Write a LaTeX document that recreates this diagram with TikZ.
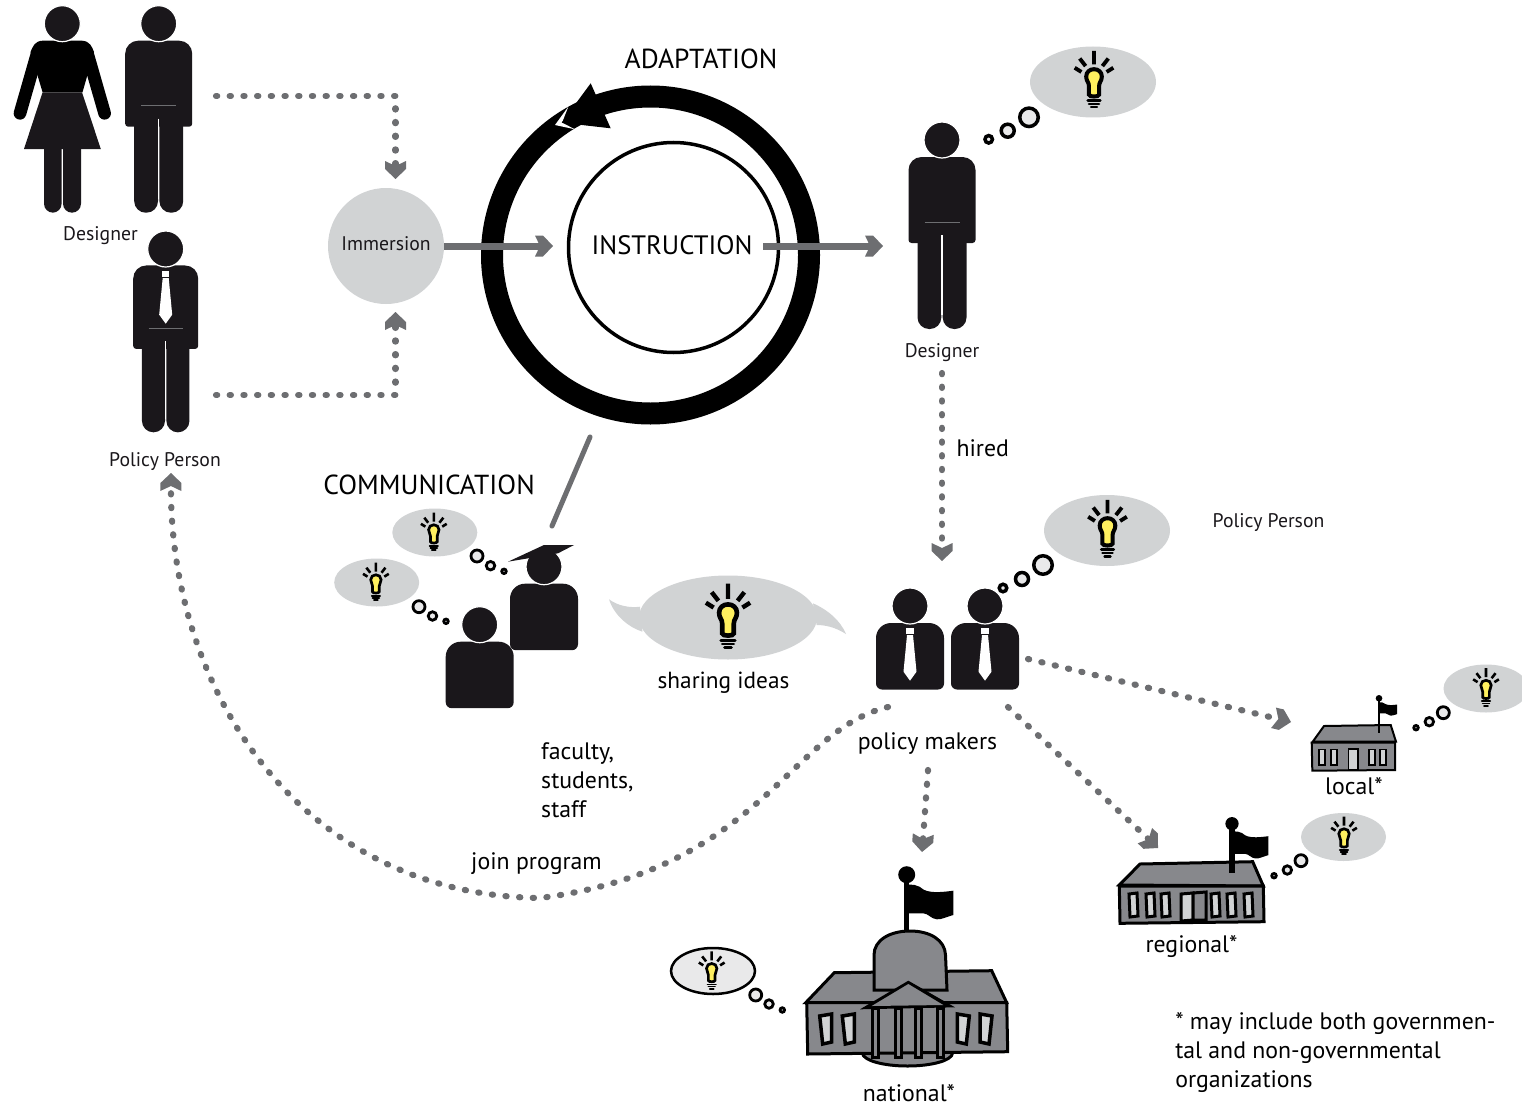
\documentclass[tikz,border=0pt]{standalone}
\usepackage{fontspec}
\setmainfont{PT Sans}
\usetikzlibrary{arrows.meta,shapes.geometric}

\definecolor{figblack}{HTML}{1A171B}
\definecolor{cloudgray}{HTML}{D1D3D4}
\definecolor{arrowgray}{HTML}{6D6E71}
\definecolor{roofgray}{HTML}{87888C}
\definecolor{dotfill}{HTML}{E9E9EA}
\definecolor{bulbyellow}{HTML}{FFF05F}

\pgfdeclarearrow{
	name=Chevron,
	setup code={
		\pgfarrowssettipend{18pt}
		\pgfarrowssetlineend{5pt}
		\pgfarrowssetbackend{0pt}
		\pgfarrowssetvisualbackend{5pt}
		\pgfarrowshullpoint{18pt}{0pt}
		\pgfarrowsupperhullpoint{0pt}{10.5pt}
		\pgfarrowsupperhullpoint{8pt}{10.5pt}
	},
	drawing code={
		\pgfpathmoveto{\pgfqpoint{18pt}{0pt}}
		\pgfpathlineto{\pgfqpoint{8pt}{10.5pt}}
		\pgfpathlineto{\pgfqpoint{0pt}{10.5pt}}
		\pgfpathlineto{\pgfqpoint{5pt}{0pt}}
		\pgfpathlineto{\pgfqpoint{0pt}{-10.5pt}}
		\pgfpathlineto{\pgfqpoint{8pt}{-10.5pt}}
		\pgfpathclose
		\pgfusepathqfill
	},
	defaults={}
}

\tikzset{
	smalltext/.style={font=\fontsize{19.7}{23}\selectfont,text=figblack},
	midtext/.style={font=\fontsize{23.8}{29}\selectfont,text=black},
	bigtext/.style={font=\fontsize{27.5}{32}\selectfont,text=black},
	dotarrow/.style={arrowgray,line width=6.2pt,line cap=round,dash pattern=on 1.2pt off 12.5pt,-{Chevron}},
	solidarrow/.style={arrowgray,line width=7pt,-{Chevron}},
	bubblebig/.style={ellipse,fill=cloudgray,inner sep=0pt,minimum width=126pt,minimum height=71pt},
	bubblesmall/.style={ellipse,fill=cloudgray,inner sep=0pt,minimum width=85pt,minimum height=48pt},
	dotring/.style={circle,draw=black,fill=dotfill,inner sep=0pt},
	windowbox/.style={draw=black,fill=cloudgray},
	wall/.style={draw=black,fill=roofgray,line join=miter},
	pics/bulb/.style={code={
		\begin{scope}[scale=#1]
		\draw[fill=bulbyellow,line width=#1*4.8pt] (-6,21) -- (-6,11) .. controls (-6,6) and (-9.3,5) .. (-9.3,-.5)
			.. controls (-9.3,-6) and (-5,-9.3) .. (0,-9.3) .. controls (5,-9.3) and (9.3,-6) .. (9.3,-.5)
			.. controls (9.3,5) and (6,6) .. (6,11) -- (6,21) .. controls (6,24) and (-6,24) .. (-6,21) -- cycle;
		\draw[line width=#1*4.6pt] (0,-31) -- (0,-15) (-17,-22) -- (-10,-13) (17,-22) -- (10,-13)
			(-23,-11) -- (-15,-6) (23,-11) -- (15,-6);
		\draw[line width=#1*3pt,line cap=round] (-7.5,28) -- (7.5,28) (-6,32) -- (6,32) (-3.5,36) -- (3.5,36);
		\end{scope}}},
	pics/bulb/.default=1,
	pics/head/.style={code={
		\fill[figblack,draw=white,line width=1.2pt] (0,0) circle[radius=18];}},
	pics/man/.style={code={
		\fill[figblack] [rounded corners=13pt] (-33.5,60) -- (-33.5,17) -- (33.5,17) [rounded corners=3pt] -- (33.5,103) -- (-33.5,103) -- cycle;
		\fill[figblack,rounded corners=11.5pt] (-24.5,90) -- (-24.5,189) -- (-.7,189) -- (-.7,90) -- cycle;
		\fill[figblack,rounded corners=11.5pt] (.7,90) -- (.7,189) -- (24.5,189) -- (24.5,90) -- cycle;
		\draw[white,line width=1.4pt] (0,95) -- (0,175);
		\draw[arrowgray,line width=.5pt] (-17.5,82) -- (17.5,82);
		\pic at (0,0) {head};}},
	pics/tie/.style={code={
		\fill[white] (-3.7,21.7) rectangle (3.7,28.3);
		\fill[white] (-3,29) -- (3,29) -- (6.5,65.7) -- (0,74.7) -- (-6.5,65.7) -- cycle;}},
	pics/bust/.style={code={
		\fill[figblack,rounded corners=15pt] (-34,50) -- (-34,17) -- (34,17) [rounded corners=6pt] -- (34,83.5) -- (-34,83.5) -- cycle;
		\pic at (0,0) {head};}},
	pics/flagcloth/.style={code={
		\begin{scope}[scale=#1]
		\fill[black] (0,0) circle[radius=8.5];
		\fill[black] (-2.4,10.3) .. controls (4,9) and (12,10) .. (17,15) .. controls (25,19) and (38,17) .. (46.6,16)
			-- (46.6,40.3) .. controls (40,42) and (35,45) .. (30,44.6) .. controls (24,44) and (22,39) .. (16.6,38.6) -- (-1.7,38.6) -- cycle;
		\end{scope}}},
}

\begin{document}
\begin{tikzpicture}[x=1pt,y=-1pt]
	\useasboundingbox (0,0) rectangle (1522,1105);

	% people on the left
	\fill[black] (42.6,40.7) -- (82,40.7) .. controls (90,41) and (92,47) .. (94,52) -- (82.5,92.3) -- (42.6,92.3) -- (30.5,52) .. controls (33,46) and (35,41) .. (42.6,40.7) -- cycle;
	\draw[black,line width=12.7pt,line cap=round] (37,54) -- (20,113.3) (87.6,54) -- (104.6,113.3);
	\fill[figblack] (42.6,92.3) -- (82,92.3) -- (100.8,149) -- (24,149) -- cycle;
	\fill[figblack,rounded corners=9pt] (44,140) -- (44,212.7) -- (61.6,212.7) -- (61.6,140) -- cycle;
	\fill[figblack,rounded corners=9pt] (63,140) -- (63,212.7) -- (81,212.7) -- (81,140) -- cycle;
	\pic at (62.3,23.7) {head};
	\pic at (158.7,23.7) {man};
	\pic[scale=.97] at (165.7,249) {man};
	\pic at (165.7,249) {tie};
	\pic at (942,140) {man};

	\node[smalltext] (designerone) at (100.5,236) {Designer};
	\node[smalltext] (policyone) at (165,462) {Policy Person};
	\node[smalltext] (designertwo) at (942,353) {Designer};
	\node[smalltext] (policytwo) at (1268.5,523) {Policy Person};

	% circles in the middle
	\node[circle,fill=cloudgray,inner sep=0pt,minimum size=116pt] (immersion) at (386,246) {};
	\node[smalltext] at (386,244) {Immersion};
	\node[circle,draw=black,line width=22pt,minimum size=317pt,inner sep=0pt] (adaptation) at (650.5,255) {};
	\node[circle,draw=black,line width=3.5pt,minimum size=210pt,inner sep=0pt] (instruction) at (673.5,247.5) {};
	\fill[white] (568.3,106.7) -- (555,125) -- (575,129.3) -- (562,122.7) -- cycle;
	\fill[black] (590.7,83.3) -- (610.7,128.3) -- (561.7,122.7) -- cycle;
	\node[bigtext] (adaptlabel) at (701,59) {ADAPTATION};
	\node[bigtext,font=\fontsize{26.6}{32}\selectfont] (instrlabel) at (672,245) {INSTRUCTION};
	\node[bigtext] (commlabel) at (429,485) {COMMUNICATION};

	\coordinate (coupleout) at (216,96);
	\coordinate (policyout) at (216,395);
	\coordinate (immtop) at (395.5,179);
	\coordinate (immbottom) at (395.5,312);
	\coordinate (instrin) at (553,246);
	\coordinate (instrout) at (763,246);
	\coordinate (designerin) at (883,246);
	\coordinate (designerout) at (942,373);
	\coordinate (makersin) at (942,561);
	\coordinate (ringfoot) at (590,437);
	\coordinate (capfoot) at (552,526);

	\draw[dotarrow] (coupleout) -| (immtop);
	\draw[dotarrow] (policyout) -| (immbottom);
	\draw[solidarrow] (immersion) -- (instrin);
	\draw[solidarrow] (instrout) -- (designerin);
	\draw[dotarrow] (designerout) -- (makersin);
	\draw[arrowgray,line width=5pt,line cap=round] (ringfoot) -- (capfoot);
	\node[midtext,anchor=west] (hired) at (953,448) {hired};

	% thought bubbles
	\node[bubblebig] (ideaone) at (1093,82) {};
	\pic at (1094,77) {bulb=.84};
	\node[bubblebig] (ideatwo) at (1107,530.5) {};
	\pic at (1107.5,526) {bulb=.84};
	\node[bubblesmall] (idealocal) at (1486,688.5) {};
	\pic at (1486,685.5) {bulb=.56};
	\node[bubblesmall] (idearegional) at (1343.5,837) {};
	\pic at (1344,834) {bulb=.56};
	\node[bubblesmall,draw=black,line width=2.5pt,fill=dotfill,minimum width=84pt,minimum height=46pt] (ideanational) at (713,971) {};
	\pic at (711.7,968.7) {bulb=.56};
	\node[bubblesmall] (ideafaculty) at (434.8,532.5) {};
	\pic at (433.8,530) {bulb=.56};
	\node[bubblesmall] (ideastudent) at (376.7,582.5) {};
	\pic at (375.9,580) {bulb=.56};

	\foreach \bx/\by/\mx/\my/\sx/\sy in {1029/117.3/1007.7/130.7/988.7/139.3,1043/565/1022/579/1003/588}{
		\node[dotring,line width=3.5pt,minimum size=18.5pt] at (\bx,\by) {};
		\node[dotring,line width=3.5pt,minimum size=13pt] at (\mx,\my) {};
		\node[dotring,line width=3.5pt,minimum size=7.5pt] at (\sx,\sy) {};
	}
	\foreach \bx/\by/\mx/\my/\sx/\sy in {1443.3/712.7/1429.3/721.7/1416/727.7,1301/860.7/1287.3/870/1274/875.7,755.7/995/769/1004/782.3/1010,
		477/556/490.5/565.7/504/571.3,419/606.7/432.5/616/446/621.3}{
		\node[dotring,line width=2.8pt,minimum size=12pt] at (\bx,\by) {};
		\node[dotring,line width=2.8pt,minimum size=8.5pt] at (\mx,\my) {};
		\node[dotring,line width=2.8pt,minimum size=4.5pt] at (\sx,\sy) {};
	}

	% faculty and students
	\pic at (544,566.7) {bust};
	\fill[figblack] (508,561.7) -- (544,545) -- (574,545) -- (558,553.3) -- (530,558) -- cycle;
	\pic at (479.7,624.7) {bust};
	\node[midtext,anchor=north west,align=left] (faculty) at (537.7,739.5) {faculty,\\students,\\staff};

	% sharing ideas
	\fill[cloudgray] (640,606.7) .. controls (630,608) and (618,606) .. (609,599.3) .. controls (614,615) and (628,627) .. (642.4,631.7) -- cycle;
	\fill[cloudgray] (813,603.3) .. controls (828,610) and (840,620) .. (846,634) .. controls (835,627) and (825,625) .. (816.6,625) -- cycle;
	\node[ellipse,fill=cloudgray,inner sep=0pt,minimum width=178pt,minimum height=84pt] (sharing) at (728,617.5) {};
	\pic at (728,613.3) {bulb=.96};
	\node[midtext,font=\fontsize{23.3}{29}\selectfont] (sharinglabel) at (723.5,682.5) {sharing ideas};

	% policy makers
	\pic at (910,606) {bust};
	\pic at (910,606) {tie};
	\pic at (985,606) {bust};
	\pic at (985,606) {tie};
	\node[midtext] (makers) at (927.5,743.5) {policy makers};

	\coordinate (makerslocal) at (1028,659);
	\coordinate (localin) at (1291,722);
	\coordinate (makersregional) at (1008,707);
	\coordinate (regionalin) at (1158,848);
	\coordinate (makersnational) at (928,770);
	\coordinate (nationalin) at (922,852);
	\coordinate (makersback) at (888,707);
	\coordinate (joinmid) at (540,898);
	\coordinate (policyin) at (171,473);

	\draw[dotarrow] (makerslocal) -- (localin);
	\draw[dotarrow] (makersregional) -- (regionalin);
	\draw[dotarrow] (makersnational) -- (nationalin);
	\draw[dotarrow] (makersback) .. controls (790,730) and (760,870) .. (joinmid) .. controls (300,895) and (170,690) .. (policyin);
	\node[midtext] (join) at (536.5,863.5) {join program};

	% local building
	\draw[wall,line width=2pt] (1312.7,741.7) -- (1324,726) -- (1390.7,725) -- (1396,741.7) -- cycle;
	\draw[wall,line width=2pt] (1311.7,742.7) -- (1395,742.7) -- (1395,770) -- (1312.3,770.7) -- cycle;
	\foreach \wx in {1321.7,1334,1371.7,1383.3}
		\draw[windowbox,line width=1.8pt] (\wx-3,749.5) rectangle (\wx+3,765);
	\draw[windowbox,line width=1.8pt] (1348.5,749) rectangle (1358,770);
	\draw[black,line width=2pt] (1379,698) -- (1379,733);
	\pic at (1379,698.3) {flagcloth=.39};
	\node[midtext] (local) at (1354,786) {local*};

	% regional building
	\draw[wall,line width=3pt] (1119.3,885) -- (1140,864) -- (1252.7,861.7) -- (1263.3,886) -- cycle;
	\draw[wall,line width=3pt] (1119.3,886) -- (1263.3,886) -- (1264,921.7) -- (1120,923.3) -- cycle;
	\foreach \wx in {1133,1150,1165,1215,1231,1248}
		\draw[windowbox,line width=3pt] (\wx-4,894) -- (\wx+4,893) -- (\wx+5,916) -- (\wx-3,917) -- cycle;
	\draw[windowbox,line width=3pt] (1181,894) -- (1193,893) -- (1193,920) -- (1181,921) -- cycle;
	\draw[windowbox,fill=roofgray,line width=3pt] (1193,893) -- (1206,892) -- (1206,920) -- (1193,920) -- cycle;
	\draw[black,line width=5.5pt] (1232,824) -- (1232,873);
	\pic at (1232,823.7) {flagcloth=.78};
	\node[midtext] (regional) at (1191.5,947) {regional*};

	% national building
	\draw[black,line width=5pt] (906.7,875) -- (906.7,932);
	\pic at (906.7,874.7) {flagcloth=1};
	\draw[wall,line width=3pt] (805.7,1002.7) -- (834.3,972.7) -- (991.7,970.7) -- (1006.7,1002.7) -- cycle;
	\draw[wall,line width=3pt] (907.5,1053) ellipse[x radius=45,y radius=13];
	\draw[wall,line width=3pt] (806.7,1002.7) -- (1006.7,1002.7) -- (1007.7,1051.7) -- (807.7,1054) -- cycle;
	\draw[wall,line width=3pt] (874,990) -- (874,955) .. controls (874,940) and (890,931) .. (910,931) .. controls (930,931) and (945,940) .. (945.5,955) -- (947,990) -- cycle;
	\foreach \wx in {825.7,848.3}
		\draw[windowbox,line width=3.5pt] (\wx-6,1016) -- (\wx+6,1014) -- (\wx+6,1042) -- (\wx-3,1044) -- cycle;
	\foreach \wx in {963.3,986}
		\draw[windowbox,line width=3.5pt] (\wx-6,1014) -- (\wx+6,1016) -- (\wx+3,1044) -- (\wx-6,1042) -- cycle;
	\foreach \wx in {875,898.3,918.3,940}
		\draw[wall,line width=3pt] (\wx-3,1008) rectangle (\wx+3,1057);
	\fill[black] (860,1009.3) -- (908.3,980.7) -- (955,1007.3) -- cycle;
	\fill[roofgray] (871.7,1006) -- (908.3,984) -- (943.3,1005) -- cycle;
	\node[midtext] (national) at (909,1093) {national*};

	\node[midtext,anchor=north west,align=left] (footnote) at (1171.7,1008.5) {* may include both governmen-\\tal and non-governmental\\organizations};
\end{tikzpicture}
\end{document}
